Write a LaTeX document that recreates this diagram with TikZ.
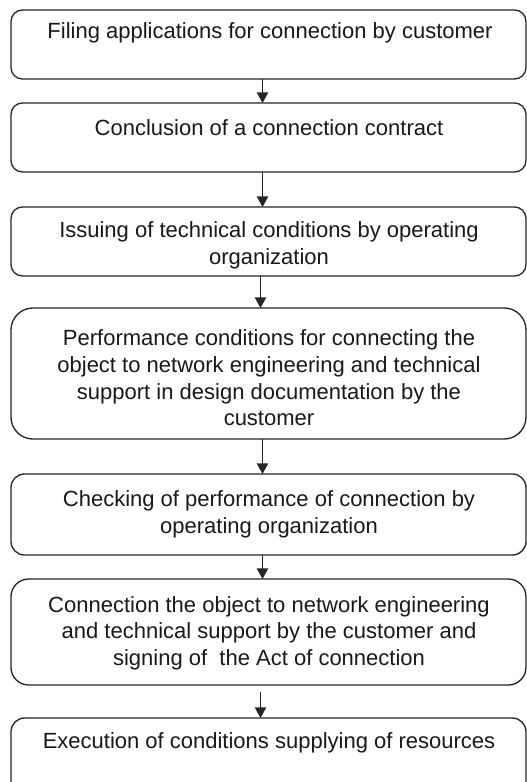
\documentclass[tikz,border=0pt]{standalone}
\usepackage{fontspec}
\setmainfont{Liberation Sans}
\usetikzlibrary{arrows.meta}
\begin{document}
\begin{tikzpicture}[x=0.75pt,y=-0.75pt,
  box/.style={draw=black!85, line width=1pt, rectangle, inner sep=0pt, outer sep=0pt,
    minimum width=386.25pt},
  lbl/.style={align=center, inner sep=0pt, text=black!90,
    font=\fontsize{16.5}{20}\selectfont},
  arr/.style={draw=black!85, line width=1.1pt, -{Triangle[length=8pt,width=8.5pt]}}]
\clip (0,0) rectangle (527,782);
\fill[white] (0,0) rectangle (527,782);
% process steps (height and corner radius in px)
\node[box, minimum height=51.75pt, rounded corners=8.6pt]  (b1) at (268.5,44.5)  {};
\node[box, minimum height=51.75pt, rounded corners=8.6pt]  (b2) at (268.5,137.5) {};
\node[box, minimum height=51.75pt, rounded corners=8.6pt]  (b3) at (268.5,241.5) {};
\node[box, minimum height=98.25pt, rounded corners=16.4pt] (b4) at (268.5,373.5) {};
\node[box, minimum height=60.75pt, rounded corners=10.1pt] (b5) at (268.5,514.5) {};
\node[box, minimum height=79.5pt,  rounded corners=13.3pt] (b6) at (268.5,632)   {};
\node[box, minimum height=61.5pt,  rounded corners=10.3pt] (b7) at (268.5,759)   {};
% step texts
\node[lbl] (t1) at (270,33)  {Filing applications for connection by customer};
\node[lbl] (t2) at (269,128) {Conclusion of a connection contract};
\node[lbl] (t3) at (269,245) {Issuing of technical conditions by operating\\organization};
\node[lbl] (t4) at (269,378) {Performance conditions for connecting the\\object to network engineering and technical\\support in design documentation by the\\customer};
\node[lbl] (t5) at (269,514) {Checking of performance of connection by\\operating organization};
\node[lbl] (t6) at (269,633) {Connection the object to network engineering\\and technical support by the customer and\\signing of\ \ the Act of connection};
\node[lbl] (t7) at (269,743) {Execution of conditions supplying of resources};
% flow arrows
\coordinate (xa) at (262.5,0);
\coordinate (xb) at (260.5,0);
\draw[arr] (b1.south -| xa) -- (b2.north -| xa);
\draw[arr] (b2.south -| xa) -- (b3.north -| xa);
\draw[arr] (b3.south -| xb) -- (b4.north -| xb);
\draw[arr] (b4.south -| xa) -- (b5.north -| xa);
\draw[arr] (b5.south -| xa) -- (b6.north -| xa);
\draw[arr, shorten <=5.25pt] (b6.south -| xb) -- (b7.north -| xb);
\end{tikzpicture}
\end{document}
